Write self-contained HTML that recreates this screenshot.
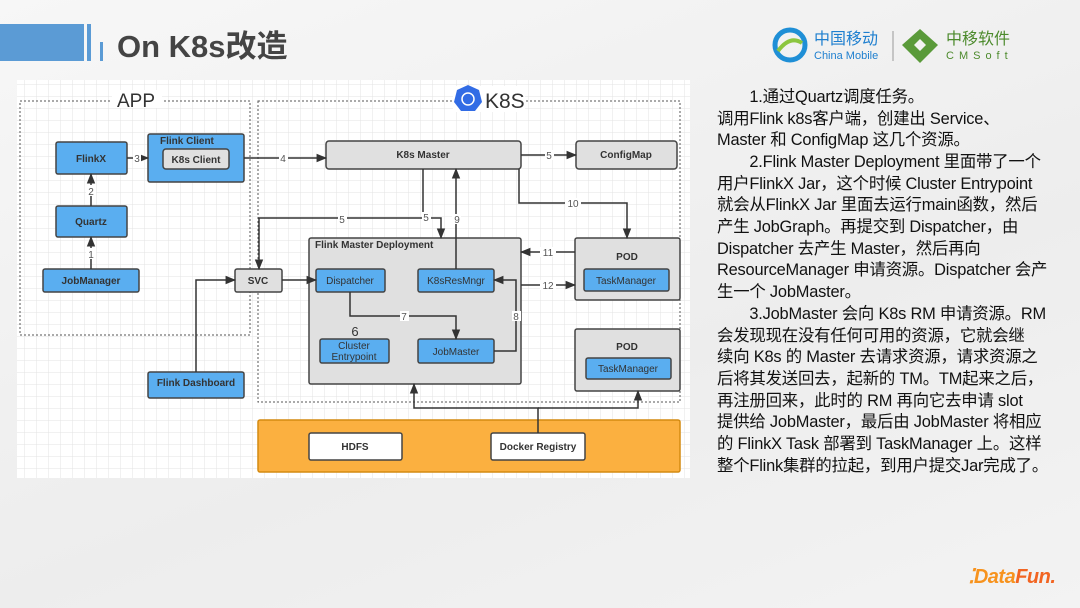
<!DOCTYPE html>
<html><head><meta charset="utf-8"><style>
body{margin:0;width:1080px;height:608px;overflow:hidden;background:linear-gradient(160deg,#f7f7f7,#ededed 60%,#f3f3f3);font-family:"Liberation Sans","Noto Sans CJK SC",sans-serif;position:relative}
.t{position:absolute;left:117px;top:21px;font-size:31px;font-weight:bold;color:#444}
.txt{position:absolute;left:717px;font-size:16.4px;color:#111;white-space:nowrap;line-height:20px;letter-spacing:-0.2px}
</style></head><body>
<div style="position:absolute;left:0;top:24px;width:84px;height:37px;background:#5b9bd5"></div>
<div style="position:absolute;left:87px;top:24px;width:4px;height:37px;background:#5b9bd5"></div>
<div style="position:absolute;left:100px;top:42px;width:3px;height:19px;background:#5b9bd5"></div>
<div class="t">On K8s改造</div>
<svg style="position:absolute;left:770px;top:25px" width="260" height="40">
<circle cx="20" cy="20" r="15" fill="none" stroke="#1f8fd6" stroke-width="5"/>
<path d="M8 26 Q20 10 32 18" stroke="#8cc63f" stroke-width="4" fill="none"/>
<text x="44" y="19" font-size="16" fill="#1e7fcf" font-family="Noto Sans CJK SC,sans-serif">中国移动</text>
<text x="44" y="34" font-size="11" fill="#1e7fcf" font-family="Liberation Sans,sans-serif">China Mobile</text>
<line x1="123" y1="6" x2="123" y2="36" stroke="#999"/>
<path d="M150 4 L168 20 L150 38 L132 20Z" fill="#5a9a3a"/><path d="M150 14 L156 20 L150 26 L144 20Z" fill="#f2f2f2"/>
<text x="176" y="19" font-size="16" fill="#4c8a2c" font-family="Noto Sans CJK SC,sans-serif">中移软件</text>
<text x="176" y="34" font-size="11" fill="#4c8a2c" letter-spacing="5" font-family="Liberation Sans,sans-serif">CMSoft</text>
</svg>
<svg style="position:absolute;left:0;top:0" width="700" height="490" font-family="Liberation Sans,sans-serif">
<defs>
<pattern id="g" width="12" height="12" patternUnits="userSpaceOnUse"><path d="M12 0H0V12" fill="none" stroke="#e3e3e3" stroke-width="1"/></pattern>
<marker id="a" viewBox="0 0 10 10" refX="9" refY="5" markerWidth="7" markerHeight="7" orient="auto"><path d="M0 1L10 5L0 9Z" fill="#333"/></marker>
</defs>
<rect x="17" y="80" width="673" height="398" fill="#fff"/>
<rect x="17" y="80" width="673" height="398" fill="url(#g)"/>
<rect x="20" y="101" width="230" height="234" fill="none" stroke="#555" stroke-dasharray="2 2"/>
<rect x="258" y="101" width="422" height="301" fill="none" stroke="#555" stroke-dasharray="2 2"/>
<rect x="112" y="90" width="50" height="18" fill="#fff"/>
<text x="136" y="107" font-size="19" fill="#333" text-anchor="middle">APP</text>
<rect x="453" y="86" width="72" height="26" fill="#fff"/>
<polygon points="468,85 479,90 482,102 475,111 461,111 454,102 457,90" fill="#326ce5"/>
<circle cx="468" cy="99" r="6" fill="none" stroke="#fff" stroke-width="1.5"/>
<text x="485" y="108" font-size="21" fill="#333">K8S</text>
<g stroke="#444" stroke-width="1.5">
<rect x="309" y="238" width="212" height="146" fill="#e0e0e0" rx="2"/>
<rect x="575" y="238" width="105" height="62" fill="#e0e0e0" rx="2"/>
<rect x="575" y="329" width="105" height="62" fill="#e0e0e0" rx="2"/>
<rect x="258" y="420" width="422" height="52" fill="#fbb040" stroke="#d48a10" rx="2"/>
<rect x="309" y="433" width="93" height="27" fill="#fff" rx="2"/>
<rect x="491" y="433" width="94" height="27" fill="#fff" rx="2"/>
<rect x="326" y="141" width="195" height="28" fill="#e0e0e0" rx="3"/>
<rect x="576" y="141" width="101" height="28" fill="#e0e0e0" rx="3"/>
<rect x="235" y="269" width="47" height="23" fill="#e0e0e0" rx="2"/>
<rect x="148" y="134" width="96" height="48" fill="#5aaef0" rx="2"/>
<rect x="163" y="149" width="66" height="20" fill="#e0e0e0" rx="3"/>
<g fill="#5aaef0">
<rect x="56" y="142" width="71" height="32" rx="2"/>
<rect x="56" y="206" width="71" height="31" rx="2"/>
<rect x="43" y="269" width="96" height="23" rx="2"/>
<rect x="148" y="372" width="96" height="26" rx="2"/>
<rect x="316" y="269" width="69" height="23" rx="2"/>
<rect x="418" y="269" width="76" height="23" rx="2"/>
<rect x="320" y="339" width="69" height="24" rx="2"/>
<rect x="418" y="339" width="76" height="24" rx="2"/>
<rect x="584" y="269" width="85" height="22" rx="2"/>
<rect x="586" y="358" width="85" height="21" rx="2"/>
</g>
</g>
<g stroke="#333" stroke-width="1.5" fill="none" marker-end="url(#a)">
<path d="M91 269V237"/><path d="M91 206V174"/>
<path d="M127 158H148"/><path d="M244 158H326"/>
<path d="M521 155H576"/>
<path d="M423 169V218H259V269"/>
<path d="M423 218H441V238"/>
<path d="M456 269V169"/>
<path d="M519 169V203H627V238"/>
<path d="M575 252H521"/><path d="M521 285H575"/>
<path d="M282 280H316"/>
<path d="M196 372V280H235"/>
<path d="M350 292V316H456V339"/>
<path d="M494 351H516V280H494"/>
<path d="M538 433V408H414V384"/>
<path d="M538 408H638V391"/>
</g>
<g font-size="10" fill="#555" text-anchor="middle">
<rect x="86" y="185" width="10" height="11" fill="#fff"/><text x="91" y="195">2</text>
<rect x="86" y="248" width="10" height="11" fill="#fff"/><text x="91" y="258">1</text>
<rect x="133" y="153" width="8" height="10" fill="#fff"/><text x="137" y="162">3</text>
<rect x="279" y="153" width="9" height="10" fill="#fff"/><text x="283" y="162">4</text>
<rect x="545" y="150" width="9" height="10" fill="#fff"/><text x="549" y="159">5</text>
<rect x="338" y="214" width="9" height="10" fill="#fff"/><text x="342" y="223">5</text>
<rect x="422" y="212" width="9" height="10" fill="#fff"/><text x="426" y="221">5</text>
<rect x="452" y="214" width="9" height="10" fill="#fff"/><text x="457" y="223">9</text>
<rect x="565" y="198" width="16" height="10" fill="#fff"/><text x="573" y="207">10</text>
<rect x="540" y="247" width="16" height="10" fill="#fff"/><text x="548" y="256">11</text>
<rect x="540" y="280" width="16" height="10" fill="#fff"/><text x="548" y="289">12</text>
<rect x="400" y="311" width="9" height="10" fill="#fff"/><text x="404" y="320">7</text>
<rect x="512" y="311" width="9" height="10" fill="#fff"/><text x="516" y="320">8</text>
</g>
<g font-size="10" font-weight="bold" fill="#333" text-anchor="middle">
<text x="91" y="162">FlinkX</text><text x="91" y="225">Quartz</text><text x="91" y="284">JobManager</text>
<text x="196" y="386">Flink Dashboard</text><text x="196" y="163">K8s Client</text>
<text x="160" y="144" text-anchor="start">Flink   Client</text>
<text x="423" y="158">K8s Master</text><text x="626" y="158">ConfigMap</text>
<text x="258" y="284">SVC</text>
<text x="315" y="248" text-anchor="start">Flink Master Deployment</text>
<text x="627" y="260">POD</text><text x="627" y="350">POD</text>
<text x="355" y="450">HDFS</text><text x="538" y="450">Docker Registry</text>
</g>
<g font-size="10" fill="#333" text-anchor="middle">
<text x="350" y="284">Dispatcher</text><text x="456" y="284">K8sResMngr</text>
<text x="354" y="349">Cluster</text><text x="354" y="360">Entrypoint</text>
<text x="456" y="355">JobMaster</text>
<text x="626" y="284">TaskManager</text><text x="628" y="372">TaskManager</text>
<text x="355" y="336" font-size="13">6</text>
</g>
</svg>
<div class="txt" style="top:87px">　　1.通过Quartz调度任务。</div>
<div class="txt" style="top:109px">调用Flink k8s客户端，创建出 Service、</div>
<div class="txt" style="top:130px">Master 和 ConfigMap 这几个资源。</div>
<div class="txt" style="top:152px">　　2.Flink Master Deployment 里面带了一个</div>
<div class="txt" style="top:174px">用户FlinkX Jar，这个时候 Cluster Entrypoint</div>
<div class="txt" style="top:195px">就会从FlinkX Jar 里面去运行main函数，然后</div>
<div class="txt" style="top:217px">产生 JobGraph。再提交到 Dispatcher，由</div>
<div class="txt" style="top:239px">Dispatcher 去产生 Master，然后再向</div>
<div class="txt" style="top:260px">ResourceManager 申请资源。Dispatcher 会产</div>
<div class="txt" style="top:282px">生一个 JobMaster。</div>
<div class="txt" style="top:304px">　　3.JobMaster 会向 K8s RM 申请资源。RM</div>
<div class="txt" style="top:326px">会发现现在没有任何可用的资源，它就会继</div>
<div class="txt" style="top:347px">续向 K8s 的 Master 去请求资源，请求资源之</div>
<div class="txt" style="top:369px">后将其发送回去，起新的 TM。TM起来之后，</div>
<div class="txt" style="top:391px">再注册回来，此时的 RM 再向它去申请 slot</div>
<div class="txt" style="top:412px">提供给 JobMaster，最后由 JobMaster 将相应</div>
<div class="txt" style="top:434px">的 FlinkX Task 部署到 TaskManager 上。这样</div>
<div class="txt" style="top:456px">整个Flink集群的拉起，到用户提交Jar完成了。</div>
<div style="position:absolute;left:968px;top:564px;font-size:20px;font-weight:bold;font-style:italic;color:#f7931e;letter-spacing:-0.5px">⁚Data<span style="color:#f26522">Fun.</span></div>
</body></html>
